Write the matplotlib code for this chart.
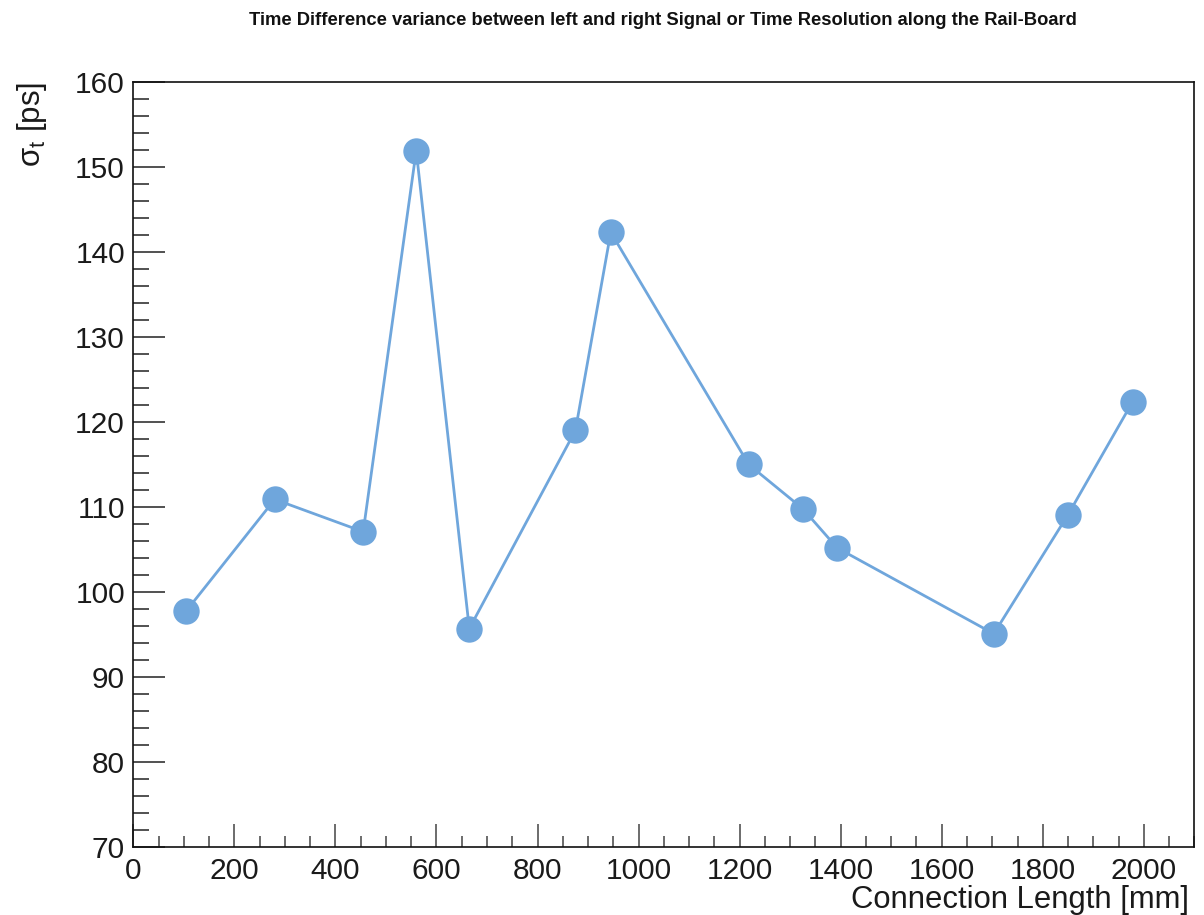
import matplotlib
matplotlib.use("Agg")
import matplotlib.pyplot as plt
from matplotlib.ticker import MultipleLocator

plt.rcParams['font.family'] = ['Liberation Sans', 'DejaVu Sans']
plt.rcParams['mathtext.fontset'] = 'custom'
plt.rcParams['mathtext.rm'] = 'Liberation Sans'

length_mm = [105, 280, 455, 560, 665, 875, 945, 1218, 1325, 1393, 1703, 1850, 1978]
sigma_ps = [97.8, 110.9, 107.1, 151.9, 95.7, 119.0, 142.3, 115.0, 109.8, 105.2, 95.1, 109.1, 122.4]

title = "Time Difference variance between left and right Signal or Time Resolution along the Rail-Board"
xlabel = "Connection Length [mm]"
ylabel = "σ$_\\mathregular{t}$ [ps]"

fig = plt.figure(figsize=(12.04, 9.15), dpi=100)
ax = fig.add_axes([0.1107, 0.0740, 0.9920 - 0.1107, 0.9107 - 0.0740])

color = '#6fa6dc'
ax.plot(length_mm, sigma_ps, '-', color=color, lw=2.0, zorder=2)
ax.plot(length_mm, sigma_ps, 'o', color=color, markersize=19, markeredgewidth=0, zorder=3)

ax.set_xlim(0, 2100)
ax.set_ylim(70, 160)
ax.xaxis.set_major_locator(MultipleLocator(200))
ax.xaxis.set_minor_locator(MultipleLocator(50))
ax.yaxis.set_major_locator(MultipleLocator(10))
ax.yaxis.set_minor_locator(MultipleLocator(2))

ax.tick_params(axis='y', which='major', direction='in', length=22.8, width=1.1, labelsize=21.5, pad=6, color='#222222')
ax.tick_params(axis='y', which='minor', direction='in', length=11.5, width=1.1, color='#222222')
ax.tick_params(axis='x', which='major', direction='in', length=16.6, width=1.1, labelsize=21.5, pad=7, color='#444444')
ax.tick_params(axis='x', which='minor', direction='in', length=8, width=1.1, color='#444444')
ax.tick_params(top=False, right=False, which='both')
for sp in ax.spines.values():
    sp.set_linewidth(1.2)
    sp.set_color('#111111')

for lab in ax.get_xticklabels() + ax.get_yticklabels():
    lab.set_color('#1a1a1a')

ax.set_xlabel(xlabel, fontsize=22.3, color='#1a1a1a', ha='right', x=0.995, labelpad=0)
ax.set_ylabel(ylabel, fontsize=22.5, color='#1a1a1a', ha='right', y=1.0, labelpad=19)

fig.text(0.551, 0.978, title, fontsize=13.2, fontweight='bold', ha='center', va='center', color='#111111')

fig.savefig('out.png', dpi=100)
